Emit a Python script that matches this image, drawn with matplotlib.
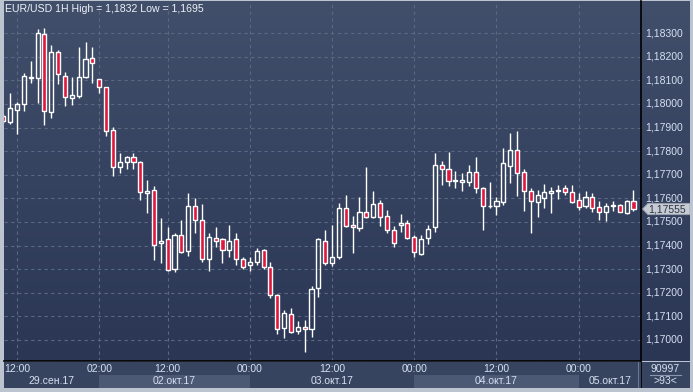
import matplotlib
matplotlib.use('Agg')
import numpy as np
import matplotlib.pyplot as plt
from matplotlib.patches import Rectangle, Polygon
from matplotlib.colors import LinearSegmentedColormap

plt.rcParams['font.family'] = ['Liberation Sans', 'DejaVu Sans']

# EUR/USD hourly candles
opens = [
    1.17949, 1.17925, 1.17975, 1.17999, 1.18110, 1.18111, 1.18295, 1.17965, 1.18219, 1.18117,
    1.18024, 1.18035, 1.18116, 1.18194, 1.18105, 1.18071, 1.17889, 1.17734, 1.17753, 1.17774,
    1.17756, 1.17622, 1.17634, 1.17410, 1.17427, 1.17300, 1.17444, 1.17376, 1.17567, 1.17507,
    1.17342, 1.17431, 1.17427, 1.17380, 1.17427, 1.17342, 1.17317, 1.17329, 1.17380, 1.17308,
    1.17189, 1.17050, 1.17109, 1.17037, 1.17054, 1.17045, 1.17219, 1.17418, 1.17325, 1.17350,
    1.17558, 1.17486, 1.17476, 1.17541, 1.17520, 1.17579, 1.17524, 1.17465, 1.17489, 1.17494,
    1.17435, 1.17363, 1.17431, 1.17478, 1.17740, 1.17723, 1.17675, 1.17671, 1.17671, 1.17711,
    1.17643, 1.17566, 1.17567, 1.17586, 1.17739, 1.17805, 1.17711, 1.17631, 1.17586, 1.17603,
    1.17622, 1.17633, 1.17643, 1.17627, 1.17593, 1.17567, 1.17605, 1.17562, 1.17541, 1.17567,
    1.17571, 1.17539, 1.17589]
highs = [
    1.17958, 1.18048, 1.18010, 1.18133, 1.18182, 1.18318, 1.18320, 1.18251, 1.18229, 1.18136,
    1.18114, 1.18243, 1.18261, 1.18242, 1.18106, 1.18074, 1.17903, 1.17791, 1.17780, 1.17791,
    1.17758, 1.17678, 1.17653, 1.17517, 1.17478, 1.17453, 1.17508, 1.17623, 1.17602, 1.17576,
    1.17453, 1.17478, 1.17431, 1.17486, 1.17452, 1.17353, 1.17350, 1.17389, 1.17386, 1.17329,
    1.17195, 1.17126, 1.17134, 1.17079, 1.17083, 1.17229, 1.17432, 1.17466, 1.17486, 1.17579,
    1.17613, 1.17524, 1.17605, 1.17733, 1.17631, 1.17593, 1.17551, 1.17483, 1.17534, 1.17508,
    1.17445, 1.17444, 1.17486, 1.17794, 1.17760, 1.17797, 1.17716, 1.17708, 1.17742, 1.17775,
    1.17650, 1.17669, 1.17607, 1.17814, 1.17876, 1.17886, 1.17725, 1.17643, 1.17634, 1.17661,
    1.17650, 1.17656, 1.17656, 1.17656, 1.17622, 1.17633, 1.17624, 1.17589, 1.17579, 1.17589,
    1.17576, 1.17593, 1.17636]
lows = [
    1.17919, 1.17915, 1.17873, 1.17972, 1.18088, 1.18006, 1.17912, 1.17941, 1.18085, 1.17993,
    1.17996, 1.18027, 1.18110, 1.18090, 1.18048, 1.17864, 1.17695, 1.17706, 1.17726, 1.17726,
    1.17593, 1.17537, 1.17339, 1.17325, 1.17292, 1.17289, 1.17370, 1.17356, 1.17453, 1.17332,
    1.17294, 1.17395, 1.17325, 1.17353, 1.17319, 1.17300, 1.17294, 1.17317, 1.17302, 1.17179,
    1.17027, 1.17007, 1.17028, 1.17027, 1.16950, 1.17011, 1.17183, 1.17319, 1.17315, 1.17344,
    1.17480, 1.17370, 1.17463, 1.17518, 1.17518, 1.17483, 1.17452, 1.17395, 1.17456, 1.17427,
    1.17353, 1.17361, 1.17408, 1.17459, 1.17657, 1.17654, 1.17645, 1.17633, 1.17654, 1.17624,
    1.17467, 1.17561, 1.17530, 1.17573, 1.17667, 1.17611, 1.17548, 1.17455, 1.17522, 1.17561,
    1.17539, 1.17599, 1.17613, 1.17579, 1.17550, 1.17561, 1.17544, 1.17510, 1.17506, 1.17547,
    1.17541, 1.17535, 1.17548]
closes = [
    1.17928, 1.17982, 1.18000, 1.18117, 1.18114, 1.18300, 1.17969, 1.18219, 1.18126, 1.18028,
    1.18037, 1.18113, 1.18189, 1.18172, 1.18071, 1.17884, 1.17732, 1.17753, 1.17774, 1.17756,
    1.17626, 1.17630, 1.17404, 1.17419, 1.17297, 1.17444, 1.17373, 1.17567, 1.17507, 1.17342,
    1.17435, 1.17418, 1.17380, 1.17418, 1.17342, 1.17308, 1.17329, 1.17376, 1.17308, 1.17189,
    1.17045, 1.17113, 1.17033, 1.17054, 1.17045, 1.17215, 1.17427, 1.17325, 1.17350, 1.17558,
    1.17484, 1.17478, 1.17541, 1.17520, 1.17575, 1.17520, 1.17465, 1.17410, 1.17494, 1.17431,
    1.17372, 1.17427, 1.17469, 1.17740, 1.17723, 1.17675, 1.17677, 1.17677, 1.17711, 1.17643,
    1.17569, 1.17569, 1.17589, 1.17749, 1.17805, 1.17706, 1.17633, 1.17588, 1.17613, 1.17627,
    1.17631, 1.17636, 1.17626, 1.17586, 1.17565, 1.17605, 1.17561, 1.17541, 1.17567, 1.17572,
    1.17544, 1.17589, 1.17555]

time_pos = [2, 14, 24, 36, 48, 60, 72, 84]
time_labels = ['12:00', '02:00', '12:00', '00:00', '12:00', '00:00', '12:00', '00:00']
day_starts = [14, 36, 60, 84]
day_labels = ['29.сен.17', '02.окт.17', '03.окт.17', '04.окт.17', '05.окт.17']
price_ticks = [1.170, 1.171, 1.172, 1.173, 1.174, 1.175, 1.176,
               1.177, 1.178, 1.179, 1.180, 1.181, 1.182, 1.183]
last_price = 1.17555
title = 'EUR/USD 1H High = 1,1832 Low = 1,1695'
bar_count = '90997'
visible = '>93<'

W, H = 693, 392
fig = plt.figure(figsize=(W / 100, H / 100), dpi=100, facecolor='#bcc4cf')


def box(x0, y0, x1, y1):
    return [x0 / W, 1 - y1 / H, (x1 - x0) / W, (y1 - y0) / H]


XLIM = (0.1, 93.1)
YLIM = (1.16911, 1.184364)
RED = '#e0163c'
TXT = '#d6e0f2'
FS = 7.5
bg_cmap = LinearSegmentedColormap.from_list('bg', ['#2a3654', '#414f6b'])
grad = np.linspace(0, 1, 256).reshape(-1, 1)

# price panel background
axp = fig.add_axes(box(641, 1, 690, 361))
axp.imshow(grad, cmap=bg_cmap, origin='lower', aspect='auto',
           extent=[641, 690, YLIM[0], YLIM[1]], zorder=0)
axp.set_xlim(641, 690)
axp.set_ylim(*YLIM)
axp.axis('off')

# main chart
ax = fig.add_axes(box(4, 1, 641, 361))
ax.imshow(grad, cmap=bg_cmap, origin='lower', aspect='auto',
          extent=[XLIM[0], XLIM[1], YLIM[0], YLIM[1]], zorder=0)
ax.set_xlim(*XLIM)
ax.set_ylim(*YLIM)
ax.set_xticks([])
ax.set_yticks([])
for s in ['top', 'left']:
    ax.spines[s].set_visible(False)
for s in ['right', 'bottom']:
    ax.spines[s].set_color('black')
    ax.spines[s].set_linewidth(1.2)

for p in price_ticks:
    ax.axhline(p, color='#5a6883', lw=0.8, ls=(0, (3, 3)), zorder=1)
for t in time_pos:
    ax.axvline(t, color='#5a6883', lw=0.8, ls=(0, (3, 3)), zorder=1)

for i in range(len(opens)):
    o, h, l, c = opens[i], highs[i], lows[i], closes[i]
    top, bot = max(o, c), min(o, c)
    ax.vlines(i, top, h, color='white', lw=1.0, zorder=3)
    ax.vlines(i, l, bot, color='white', lw=1.0, zorder=3)
    fc = RED if c < o else 'none'
    ax.add_patch(Rectangle((i - 0.3, bot), 0.6, top - bot, facecolor=fc,
                           edgecolor='white', lw=1.0, zorder=4))

ax.text(0.2, YLIM[1] - 0.00034, title, color='#eef2f8', fontsize=7.6,
        ha='left', va='center', zorder=6)

# price labels
for p in price_ticks:
    axp.text(645, p, ('%.5f' % p).replace('.', ','), color=TXT, fontsize=FS,
             ha='left', va='center')
hh = 0.00024
axp.add_patch(Polygon([(642.5, last_price), (648, last_price + hh), (690, last_price + hh),
                       (690, last_price - hh), (648, last_price - hh)], closed=True,
                      facecolor='#c6cad2', edgecolor='#9aa0aa', lw=0.6, zorder=5))
axp.text(648.5, last_price, ('%.5f' % last_price).replace('.', ','), color='#2c3444',
         fontsize=FS, ha='left', va='center', zorder=6)

# time axis panel
axx = fig.add_axes(box(4, 362, 641, 388))
axx.set_facecolor('#37445f')
axx.set_xlim(*XLIM)
axx.set_ylim(26, 0)
axx.set_xticks([])
axx.set_yticks([])
for s in axx.spines.values():
    s.set_visible(False)
bounds = [XLIM[0]] + day_starts + [XLIM[1]]
for k, lab in enumerate(day_labels):
    a, b = bounds[k], bounds[k + 1]
    if k % 2 == 1:
        axx.add_patch(Rectangle((a, 13), b - a, 13, facecolor='#4b5975', lw=0))
    axx.text((a + b) / 2, 19.5, lab, color=TXT, fontsize=FS, ha='center', va='center')
for t, lab in zip(time_pos, time_labels):
    axx.text(t, 6.5, lab, color=TXT, fontsize=FS, ha='center', va='center')
axx.axvline(92.6, color='#6b7791', lw=0.8)

# corner panel
axc = fig.add_axes(box(641, 362, 690, 388))
axc.set_facecolor('#37445f')
axc.set_xlim(0, 1)
axc.set_ylim(26, 0)
axc.set_xticks([])
axc.set_yticks([])
for s in axc.spines.values():
    s.set_visible(False)
axc.axvline(0.01, color='black', lw=1.2)
axc.text(0.5, 6.5, bar_count, color=TXT, fontsize=FS, ha='center', va='center')
axc.plot([0.18, 0.82], [13, 13], color='#8a96ad', lw=0.8)
axc.text(0.5, 19.5, visible, color=TXT, fontsize=FS, ha='center', va='center')

fig.savefig('out.png', dpi=100, facecolor=fig.get_facecolor())
